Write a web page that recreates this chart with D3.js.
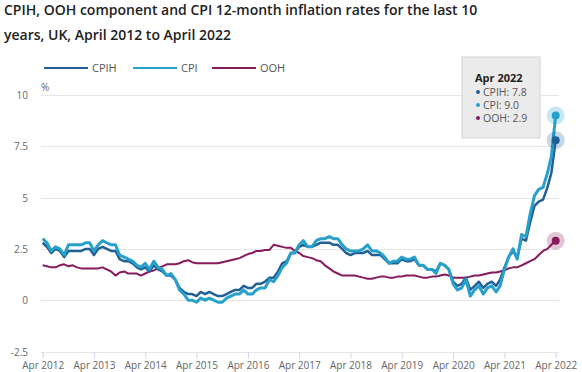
<!DOCTYPE html>
<html>
<head>
<meta charset="utf-8">
<script src="https://cdn.jsdelivr.net/npm/d3@7"></script>
<style>
  body { margin: 0; background: #fff; font-family: "Open Sans", sans-serif; }
  svg { display: block; }
</style>
</head>
<body>
<div id="chart"></div>
<script>
const width = 582;
const height = 372;

// monthly, Apr 2012 .. Apr 2022
const startMonth = new Date(2012, 3, 1);
const endMonth = new Date(2022, 3, 1);

const cpih = [
  2.8, 2.6, 2.3, 2.5, 2.4, 2.1, 2.4, 2.4, 2.4,
  2.4, 2.5, 2.5, 2.2, 2.5, 2.6, 2.5, 2.4, 2.4, 2.0, 1.9, 1.9,
  1.8, 1.6, 1.5, 1.6, 1.4, 1.7, 1.5, 1.4, 1.2, 1.2, 1.0, 0.6,
  0.4, 0.3, 0.3, 0.2, 0.4, 0.3, 0.4, 0.3, 0.2, 0.2, 0.3, 0.4,
  0.5, 0.5, 0.7, 0.6, 0.6, 0.8, 0.8, 0.9, 1.1, 1.1, 1.4, 1.8,
  1.9, 2.3, 2.3, 2.6, 2.7, 2.6, 2.6, 2.7, 2.8, 2.8, 2.8, 2.7,
  2.7, 2.5, 2.3, 2.2, 2.3, 2.3, 2.3, 2.4, 2.2, 2.2, 2.2, 2.0,
  1.8, 1.8, 1.8, 2.0, 1.9, 1.9, 2.0, 1.7, 1.7, 1.5, 1.5, 1.4,
  1.8, 1.7, 1.5, 0.9, 0.7, 0.8, 1.1, 0.5, 0.7, 0.9, 0.6, 0.8,
  0.9, 0.7, 1.0, 1.6, 2.1, 2.4, 2.1, 3.0, 2.9, 3.8, 4.6, 4.8,
  4.9, 5.5, 6.2, 7.8
];

const cpi = [
  3.0, 2.8, 2.4, 2.6, 2.5, 2.2, 2.7, 2.7, 2.7,
  2.7, 2.8, 2.8, 2.4, 2.7, 2.9, 2.8, 2.7, 2.7, 2.2, 2.1, 2.0,
  1.9, 1.7, 1.6, 1.8, 1.5, 1.9, 1.6, 1.5, 1.2, 1.3, 1.0, 0.5,
  0.3, 0.0, 0.0, -0.1, 0.1, 0.0, 0.1, 0.0, -0.1, -0.1, 0.1, 0.2,
  0.3, 0.3, 0.5, 0.3, 0.3, 0.5, 0.6, 0.6, 1.0, 0.9, 1.2, 1.6,
  1.8, 2.3, 2.3, 2.7, 2.9, 2.6, 2.6, 2.9, 3.0, 3.0, 3.1, 3.0,
  3.0, 2.7, 2.5, 2.4, 2.4, 2.4, 2.5, 2.7, 2.4, 2.4, 2.3, 2.1,
  1.8, 1.9, 1.9, 2.1, 2.0, 2.0, 2.1, 1.7, 1.7, 1.5, 1.5, 1.3,
  1.8, 1.7, 1.5, 0.8, 0.5, 0.6, 1.0, 0.2, 0.5, 0.7, 0.3, 0.6,
  0.7, 0.4, 0.7, 1.5, 2.1, 2.5, 2.0, 3.2, 3.1, 4.2, 5.1, 5.4,
  5.5, 6.2, 7.0, 9.0
];

const ooh = [
  1.7, 1.65, 1.6, 1.6, 1.7, 1.75, 1.65, 1.7, 1.6,
  1.55, 1.55, 1.55, 1.55, 1.55, 1.6, 1.5, 1.4, 1.2, 1.35, 1.4, 1.3,
  1.3, 1.3, 1.2, 1.3, 1.4, 1.45, 1.55, 1.65, 1.75, 1.75, 1.75, 1.8,
  1.9, 1.95, 1.85, 1.8, 1.8, 1.8, 1.8, 1.8, 1.8, 1.85, 1.9, 1.95,
  2.0, 2.05, 2.15, 2.25, 2.3, 2.4, 2.4, 2.45, 2.45, 2.7, 2.65, 2.6,
  2.55, 2.55, 2.4, 2.3, 2.15, 2.1, 2.05, 1.95, 1.9, 1.7, 1.55, 1.4,
  1.3, 1.2, 1.2, 1.2, 1.2, 1.15, 1.1, 1.05, 1.05, 1.1, 1.15, 1.15,
  1.1, 1.1, 1.15, 1.15, 1.2, 1.2, 1.2, 1.15, 1.1, 1.1, 1.15, 1.15,
  1.2, 1.25, 1.2, 1.1, 1.1, 1.1, 1.1, 1.15, 1.2, 1.2, 1.25, 1.3,
  1.35, 1.35, 1.4, 1.45, 1.55, 1.6, 1.6, 1.7, 1.8, 1.9, 2.0, 2.2,
  2.4, 2.5, 2.7, 2.9
];

const yTicks = [-2.5, 0, 2.5, 5, 7.5, 10];
const xTickLabels = ["Apr 2012", "Apr 2013", "Apr 2014", "Apr 2015", "Apr 2016", "Apr 2017",
  "Apr 2018", "Apr 2019", "Apr 2020", "Apr 2021", "Apr 2022"];

const months = d3.timeMonth.range(startMonth, d3.timeMonth.offset(endMonth, 1));

const series = [
  { name: "OOH", values: ooh, color: "#871a5b", width: 2 },
  { name: "CPIH", values: cpih, color: "#206095", width: 2.5 },
  { name: "CPI", values: cpi, color: "#27a0cc", width: 3 }
];
const legendOrder = ["CPIH", "CPI", "OOH"];

const svg = d3.select("#chart")
  .append("svg")
  .attr("width", width)
  .attr("height", height);

// title
svg.append("text")
  .attr("x", 4).attr("y", 15)
  .attr("font-size", 14).attr("font-weight", 600).attr("fill", "#222")
  .text("CPIH, OOH component and CPI 12-month inflation rates for the last 10");
svg.append("text")
  .attr("x", 4).attr("y", 40)
  .attr("font-size", 14).attr("font-weight", 600).attr("fill", "#222")
  .text("years, UK, April 2012 to April 2022");

const x = d3.scaleTime()
  .domain([startMonth, endMonth])
  .range([42.7, 555.7]);

const y = d3.scaleLinear()
  .domain([-2.5, 10])
  .range([351.5, 95]);

// gridlines
svg.append("g")
  .selectAll("line")
  .data(yTicks)
  .join("line")
  .attr("x1", 41).attr("x2", 559)
  .attr("y1", d => Math.round(y(d)) + 0.5)
  .attr("y2", d => Math.round(y(d)) + 0.5)
  .attr("stroke", "#e6e6e6");

// y labels
svg.append("g")
  .selectAll("text")
  .data(yTicks)
  .join("text")
  .attr("x", 28)
  .attr("y", d => y(d) + 4)
  .attr("text-anchor", "end")
  .attr("font-size", 10)
  .attr("fill", "#666")
  .text(d => d);

svg.append("text")
  .attr("x", 41).attr("y", 91)
  .attr("font-size", 10).attr("fill", "#666")
  .text("%");

// x axis
const tickDates = xTickLabels.map((d, i) => new Date(2012 + i, 3, 1));
const xAxis = svg.append("g")
  .attr("transform", `translate(0,${Math.round(y(-2.5)) + 0.5})`)
  .call(d3.axisBottom(x).tickValues(tickDates).tickSize(6).tickPadding(3)
    .tickFormat((d, i) => xTickLabels[i]));
xAxis.select(".domain").remove();
xAxis.selectAll(".tick line").attr("stroke", "#ccd6eb");
xAxis.selectAll(".tick text")
  .attr("font-family", "Open Sans, sans-serif")
  .attr("font-size", 10)
  .attr("fill", "#666");

// lines
const line = d3.line()
  .x((d, i) => x(months[i]))
  .y(d => y(d));

svg.append("g")
  .selectAll("path")
  .data(series)
  .join("path")
  .attr("fill", "none")
  .attr("stroke", d => d.color)
  .attr("stroke-width", d => d.width)
  .attr("stroke-linejoin", "round")
  .attr("d", d => line(d.values));

// hover markers at last point
const last = months.length - 1;
const markers = svg.append("g")
  .selectAll("g")
  .data(series)
  .join("g")
  .attr("transform", d => `translate(${x(months[last])},${y(d.values[last])})`);
markers.append("circle")
  .attr("r", 9)
  .attr("fill", d => d.color)
  .attr("fill-opacity", 0.25);
markers.append("circle")
  .attr("r", 4)
  .attr("fill", d => d.color);

// legend
const legend = svg.append("g")
  .selectAll("g")
  .data(legendOrder.map(n => series.find(s => s.name === n)))
  .join("g")
  .attr("transform", (d, i) => `translate(${[44, 133, 212][i]},68)`);
legend.append("line")
  .attr("x1", 0).attr("x2", 44)
  .attr("stroke", d => d.color)
  .attr("stroke-width", 2);
legend.append("text")
  .attr("x", 48).attr("y", 4)
  .attr("font-size", 11)
  .attr("fill", "#555")
  .text(d => d.name);

// tooltip
const tip = svg.append("g").attr("transform", "translate(462,57)");
tip.append("rect")
  .attr("width", 78).attr("height", 81)
  .attr("fill", "#ebebeb")
  .attr("stroke", "#d4d4d4");
tip.append("text")
  .attr("x", 13).attr("y", 25)
  .attr("font-size", 11).attr("font-weight", 700).attr("fill", "#222")
  .text("Apr 2022");
const tipRows = tip.selectAll("g.row")
  .data(legendOrder.map(n => series.find(s => s.name === n)))
  .join("g")
  .attr("class", "row")
  .attr("transform", (d, i) => `translate(16,${35 + i * 13})`);
tipRows.append("circle")
  .attr("r", 2).attr("fill", d => d.color);
tipRows.append("text")
  .attr("x", 5).attr("y", 4)
  .attr("font-size", 10.5).attr("fill", "#555")
  .text(d => `${d.name}: ${d.values[last].toFixed(1)}`);
</script>
</body>
</html>
